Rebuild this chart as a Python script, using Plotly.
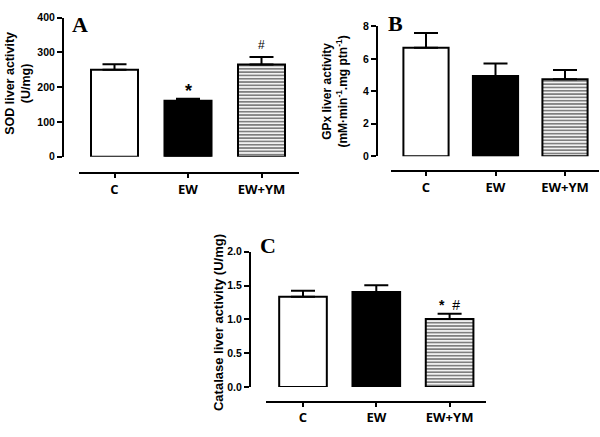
import plotly.graph_objects as go

W, H = 600, 437

groups = ["C", "EW", "EW+YM"]

sod_values = [250, 161, 265]
sod_errors = [16, 6, 22]

gpx_values = [6.68, 4.94, 4.74]
gpx_errors = [0.92, 0.78, 0.58]

cat_values = [1.334, 1.406, 1.007]
cat_errors = [0.09, 0.10, 0.075]

sod_ticks = [0, 100, 200, 300, 400]
gpx_ticks = [0, 2, 4, 6, 8]
cat_ticks = [0.0, 0.5, 1.0, 1.5, 2.0]
cat_ticklabels = ["0.0", "0.5", "1.0", "1.5", "2.0"]


def fx(px):
    return px / W


def fy(py):
    return 1 - py / H


FONT = "Liberation Sans, Arial, sans-serif"
CATFONT = "Open Sans, Liberation Sans, sans-serif"
LETTERFONT = "Liberation Serif, Times New Roman, serif"

fig = go.Figure()

panels = [
    dict(vals=sod_values, errs=sod_errors, width=0.64, xa="x", ya="y"),
    dict(vals=gpx_values, errs=gpx_errors, width=0.65, xa="x2", ya="y2"),
    dict(vals=cat_values, errs=cat_errors, width=0.65, xa="x3", ya="y3"),
]

xs = [0, 1, 2]
for p in panels:
    styles = [
        dict(color="white", pattern=dict(shape="")),
        dict(color="black", pattern=dict(shape="")),
        dict(color="white", pattern=dict(shape="-", size=3.3, solidity=0.55,
                                          fgcolor="black", bgcolor="white",
                                          fillmode="overlay")),
    ]
    for i in range(3):
        fig.add_trace(go.Bar(
            x=[xs[i]], y=[p["vals"][i]], width=p["width"],
            marker=dict(color=styles[i]["color"], pattern=styles[i]["pattern"],
                        line=dict(color="black", width=2)),
            error_y=dict(type="data", symmetric=False, array=[p["errs"][i]],
                         arrayminus=[0], color="black", thickness=2, width=12),
            xaxis=p["xa"], yaxis=p["ya"], showlegend=False, hoverinfo="skip",
        ))


def xaxis(d0, d1, c0, s, ypos):
    return dict(domain=[fx(d0), fx(d1)], range=[(d0 - c0) / s, (d1 - c0) / s],
                anchor="free", position=fy(ypos), showline=True, linecolor="black",
                linewidth=2, ticks="outside", ticklen=4, tickwidth=2, tickcolor="black",
                tickmode="array", tickvals=xs, ticktext=groups, showgrid=False,
                zeroline=False, fixedrange=True,
                tickfont=dict(family=CATFONT, size=13, color="black", weight="bold"))


def yaxis(ytop, ybot, rng, xpos, tickvals, ticktext=None):
    d = dict(domain=[fy(ybot), fy(ytop)], range=rng, anchor="free", position=fx(xpos),
             showline=True, linecolor="black", linewidth=2, ticks="outside", ticklen=5,
             tickwidth=2, tickcolor="black", tickmode="array", tickvals=tickvals,
             showgrid=False, zeroline=False, fixedrange=True,
             tickfont=dict(family=FONT, size=10.5, color="black", weight="bold"))
    if ticktext is not None:
        d["ticktext"] = ticktext
    return d


fig.update_layout(
    width=W, height=H, margin=dict(l=0, r=0, t=0, b=0),
    paper_bgcolor="white", plot_bgcolor="rgba(0,0,0,0)",
    barmode="overlay",
    xaxis=xaxis(79, 299, 114.5, 73.5, 172),
    yaxis=yaxis(12, 155, [0, 400], 63, sod_ticks),
    xaxis2=xaxis(391, 599, 426, 69.5, 170),
    yaxis2=yaxis(21, 154.5, [0, 8], 377, gpx_ticks),
    xaxis3=xaxis(266, 486, 303, 73.3, 407),
    yaxis3=yaxis(252.7, 391.7, [0, 2], 250, cat_ticks, cat_ticklabels),
)

ann = []
common = dict(xref="paper", yref="paper", showarrow=False, xanchor="center",
              yanchor="middle")
ann.append(dict(text="<b>SOD liver activity<br>(U/mg)</b>", x=fx(18), y=fy(80),
                textangle=-90, font=dict(family=FONT, size=12.5, color="black"), **common))
ann.append(dict(text="<b>GPx liver activity<br>(mM·min<sup>-1</sup>.mg ptn<sup>-1</sup>)</b>",
                x=fx(335), y=fy(88), textangle=-90,
                font=dict(family=FONT, size=12, color="black"), **common))
ann.append(dict(text="<b>Catalase liver activity (U/mg)</b>", x=fx(218), y=fy(326),
                textangle=-90, font=dict(family=FONT, size=13, color="black"), **common))
for letter, px, py in [("A", 80, 19), ("B", 395, 18), ("C", 268, 246)]:
    ann.append(dict(text="<b>" + letter + "</b>", x=fx(px), y=fy(py),
                    font=dict(family=LETTERFONT, size=22, color="black"), **common))
ann.append(dict(text="<b>*</b>", x=1, y=190, xref="x", yref="y", showarrow=False,
                xanchor="center", yanchor="middle",
                font=dict(family=FONT, size=18, color="black")))
ann.append(dict(text="#", x=2, y=322, xref="x", yref="y", showarrow=False,
                xanchor="center", yanchor="middle",
                font=dict(family=FONT, size=12, color="black")))
ann.append(dict(text="<b>*</b>  #", x=2, y=1.21, xref="x3", yref="y3", showarrow=False,
                xanchor="center", yanchor="middle",
                font=dict(family=FONT, size=14, color="black")))
fig.update_layout(annotations=ann)

fig.write_html("out.html",
               config={"displayModeBar": False, "staticPlot": True},
               post_script="document.body.style.margin='0';"
                           "document.body.style.overflow='hidden';")
